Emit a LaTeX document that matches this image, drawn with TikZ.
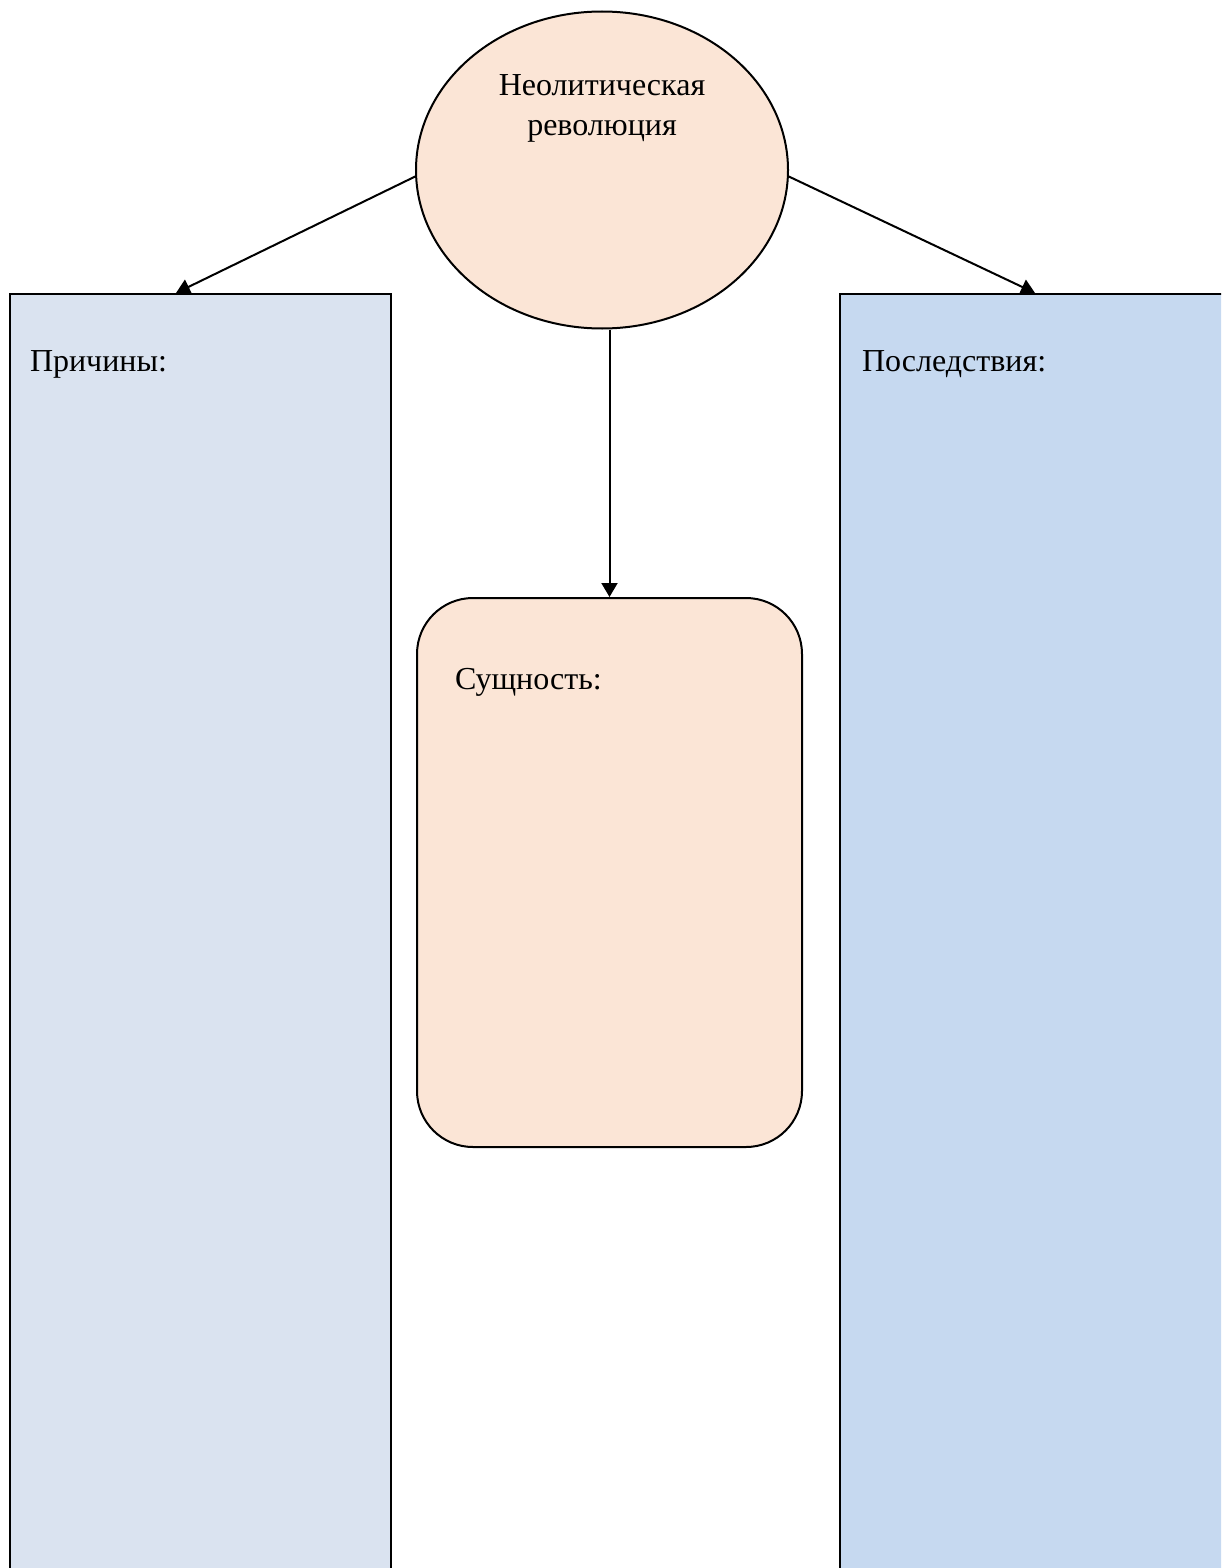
\documentclass[tikz,border=0pt]{standalone}
\usepackage{fontspec}
\setmainfont{Liberation Serif}
\usepackage{tikz}
\usetikzlibrary{shapes.geometric,arrows.meta}

\definecolor{peach}{HTML}{FBE5D6}
\definecolor{paleblue}{HTML}{DAE3F0}
\definecolor{softblue}{HTML}{C6D9F0}

\begin{document}
\begin{tikzpicture}
    [x=0.5pt, y=-0.5pt,
    line width=1pt,
    every node/.style={font=\fontsize{16}{20}\selectfont, inner sep=0pt},
    column/.style={draw, rectangle, minimum width=190.5pt, minimum height=653pt},
    arr/.style={-{Triangle[width=8pt,length=7pt]}},
    heading/.style={anchor=base west}
    ]
    \useasboundingbox (0,0) rectangle (1221,1568);
    \clip (0,0) rectangle (1221,1568);

    % central idea
    \node (neo) [draw, ellipse, fill=peach, minimum width=186pt, minimum height=158.5pt] at (602,170) {};
    \node (neotext) [align=center, anchor=base] at (602,135) {Неолитическая\\революция};

    % the three blocks
    \node (causes) [column, fill=paleblue] at (200.5,947) {};
    \node (effects) [column, fill=softblue, minimum width=200pt] at (1040,947) {};
    \node (essence) [draw, rectangle, rounded corners=28pt, fill=peach,
        minimum width=192.5pt, minimum height=274.5pt] at (609.5,872.5) {};

    \node (causestext) [heading] at ([xshift=10pt,yshift=-39pt]causes.north west) {Причины:};
    \node (effectstext) [heading] at ([xshift=11pt,yshift=-39pt]effects.north west) {Последствия:};
    \node (essencetext) [heading] at ([xshift=19pt,yshift=-46pt]essence.north west) {Сущность:};

    % arrows
    \draw [arr] (neo.182) -- ([xshift=-12.25pt]causes.north);
    \draw [arr] (neo.-2) -- ([xshift=-2.5pt]effects.north);
    \draw [arr] (neo.south -| essence.north) -- (essence.north);
\end{tikzpicture}
\end{document}
